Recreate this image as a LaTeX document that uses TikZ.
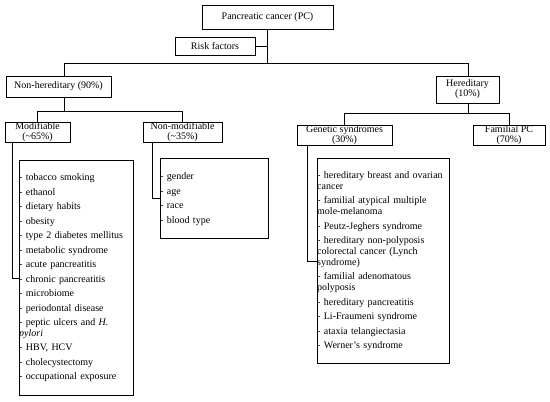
\documentclass[tikz,border=0pt]{standalone}
\usepackage{fontspec}
\setmainfont{Liberation Serif}
\newcommand{\lgap}{\\[3.7pt]}
\begin{document}
\begin{tikzpicture}[x=1pt,y=-1pt,
  box/.style={draw, line width=0.8pt, inner sep=0pt, align=center, font=\fontsize{10}{10}\selectfont},
  listbox/.style={draw, line width=0.9pt, inner sep=0pt, anchor=north west},
  listtext/.style={inner sep=0pt, anchor=base west, align=left, text width=135pt, font=\fontsize{10}{10.8}\selectfont},
  conn/.style={line width=0.8pt}]
\useasboundingbox (0,0) rectangle (550,402);
% top level
\node[box, minimum width=131pt, minimum height=24pt] (pc) at (267.5,17) {Pancreatic cancer (PC)};
\node[box, minimum width=80pt, minimum height=18pt] (risk) at (215,46) {Risk factors};
\coordinate (trunk) at (267,63);
\draw[conn] (pc.south) -- (pc.south |- trunk);
\draw[conn] (risk.east) -- (risk.east -| pc.south);
% level 1
\node[box, minimum width=105pt, minimum height=21pt] (nonher) at (58.5,86.5) {Non-hereditary (90\%)};
\node[box, minimum width=63pt, minimum height=27pt] (her) at (467.5,89.5) {Hereditary\\(10\%)};
\coordinate (nhx) at (64,0);
\coordinate (hx) at (468,0);
\draw[conn] (nonher.north -| nhx) -- (nhx |- trunk) -- (hx |- trunk) -- (her.north -| hx);
% level 2 left
\coordinate (l2) at (0,111);
\node[box, minimum width=65pt, minimum height=20pt] (mod) at (37.5,132) {Modifiable\\(\textasciitilde65\%)};
\node[box, minimum width=79pt, minimum height=20pt] (nonmod) at (182.5,132) {Non-modifiable\\(\textasciitilde35\%)};
\draw[conn] (nonher.south -| nhx) -- (nhx |- l2);
\draw[conn] (mod.north) -- (mod.north |- l2) -- (nonmod.north |- l2) -- (nonmod.north);
% level 2 right
\coordinate (r2) at (0,113);
\node[box, minimum width=95pt, minimum height=20pt] (gen) at (344.5,135) {Genetic syndromes\\(30\%)};
\node[box, minimum width=72pt, minimum height=20pt] (fam) at (509,135) {Familial PC\\(70\%)};
\draw[conn] (her.south -| hx) -- (hx |- r2);
\draw[conn] (gen.north) -- (gen.north |- r2) -- (fam.north |- r2) -- (fam.north);
% lists
\node[listbox, minimum width=114pt, minimum height=235pt] (modbox) at (19,160) {};
\node[listtext] (modtext) at (19,180.5) {- tobacco smoking\lgap
- ethanol\lgap
- dietary habits\lgap
- obesity\lgap
- type 2 diabetes mellitus\lgap
- metabolic syndrome\lgap
- acute pancreatitis\lgap
- chronic pancreatitis\lgap
- microbiome\lgap
- periodontal disease\lgap
- peptic ulcers and \textit{H.}\\
\textit{pylori}\lgap
- HBV, HCV\lgap
- cholecystectomy\lgap
- occupational exposure};
\node[listbox, minimum width=108pt, minimum height=80pt] (nmbox) at (160,158) {};
\node[listtext] (nmtext) at (160,179.5) {- gender\lgap
- age\lgap
- race\lgap
- blood type};
\node[listbox, minimum width=132pt, minimum height=205pt] (genbox) at (317,158) {};
\node[listtext] (gentext) at (317,178.5) {- hereditary breast and ovarian\\
cancer\lgap
- familial atypical multiple\\
mole-melanoma\lgap
- Peutz-Jeghers syndrome\lgap
- hereditary non-polyposis\\
colorectal cancer (Lynch\\
syndrome)\lgap
- familial adenomatous\\
polyposis\lgap
- hereditary pancreatitis\lgap
- Li-Fraumeni syndrome\lgap
- ataxia telangiectasia\lgap
- Werner’s syndrome};
% connectors to lists
\coordinate (mx) at (12,0);
\coordinate (nmx) at (152,0);
\coordinate (gx) at (307,0);
\draw[conn] (mod.south -| mx) |- (modbox.west);
\draw[conn] (nonmod.south -| nmx) |- (nmbox.west);
\draw[conn] (gen.south -| gx) |- (genbox.west);
\end{tikzpicture}
\end{document}
